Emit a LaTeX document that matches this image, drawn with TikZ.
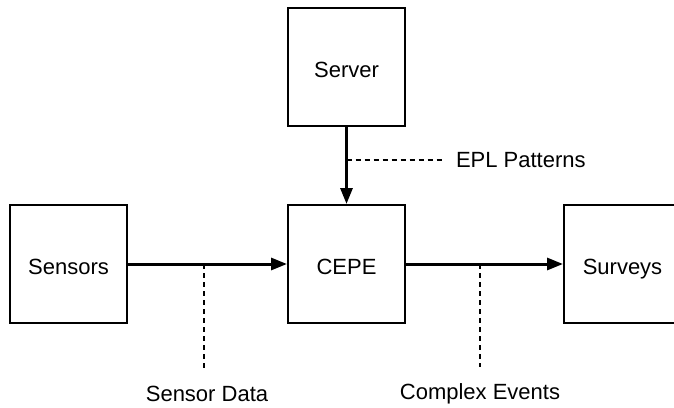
\documentclass[tikz,border=0pt]{standalone}
\usepackage{fontspec}
\setmainfont{Liberation Sans}
\usepackage{tikz}
\usetikzlibrary{arrows.meta}
\usetikzlibrary{calc,positioning}

\begin{document}
\begin{tikzpicture}[x=0.5pt,y=-0.5pt,line width=1pt,
        box/.style={draw,minimum width=58.5pt,minimum height=59pt,inner sep=0pt,
            text height=10pt,text depth=0pt,font=\fontsize{11}{13}\selectfont},
        flow/.style={-{Triangle[length=8pt,width=6pt]},line width=1.5pt},
        note/.style={dash pattern=on 2.5pt off 2pt,line width=0.8pt},
        lbl/.style={inner sep=0pt,font=\fontsize{11}{13}\selectfont}]
        \clip (0,0) rectangle (674,407);

        \def\row{264}
        \node[box] (sensors) at (68.5,\row) {Sensors};
        \node[box] (cepe) at (346.5,\row) {CEPE};
        \node[box] (surveys) at (622.5,\row) {Surveys};
        \node[box] (server) at (346.5,67) {Server};

        \draw[flow] (sensors) -- (cepe);
        \draw[flow] (cepe) -- (surveys);
        \draw[flow] (server) -- (cepe);

        \coordinate (sd) at (204,\row);
        \coordinate (ce) at (480,\row);
        \coordinate (ep) at (346.5,160);

        \node[lbl] (sdlbl) at (207,394) {Sensor Data};
        \node[lbl] (celbl) at (480,394) {Complex Events};
        \node[lbl,anchor=west] (eplbl) at (455,160) {EPL Patterns};

        \draw[note,shorten >=8pt] (sd) -- (sd |- sdlbl.north);
        \draw[note,shorten >=8pt] (ce) -- (ce |- celbl.north);
        \draw[note,shorten >=6.5pt] (ep) -- (eplbl.west);
    \end{tikzpicture}
\end{document}
